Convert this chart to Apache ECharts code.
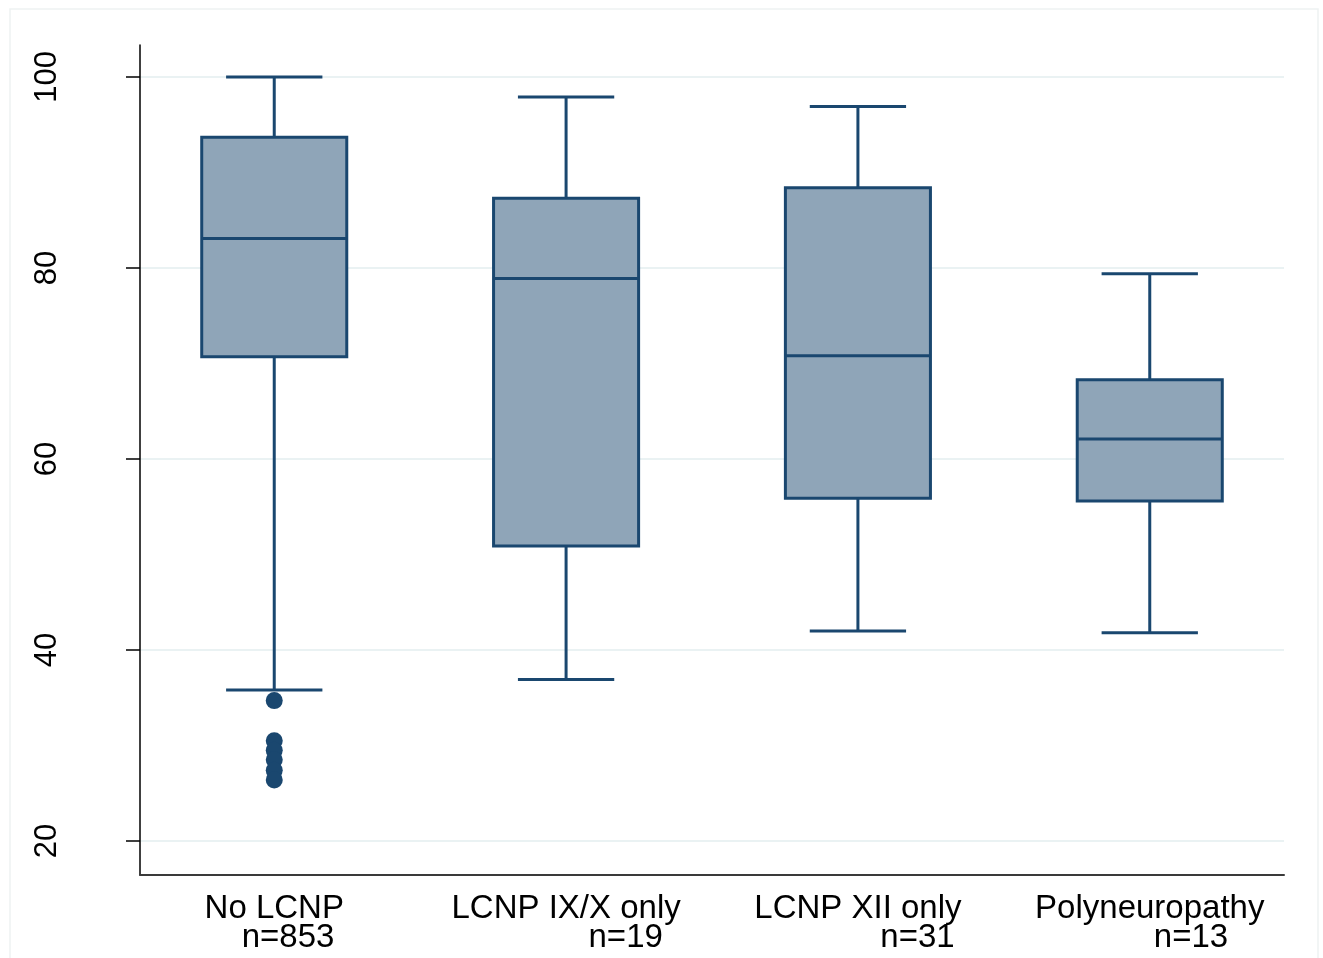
<!DOCTYPE html>
<html>
<head>
<meta charset="utf-8">
<script src="https://cdn.jsdelivr.net/npm/echarts@6/dist/echarts.min.js"></script>
<style>html,body{margin:0;padding:0;background:#fff;}#chart{width:1323px;height:958px;}</style>
</head>
<body>
<div id="chart"></div>
<script>
const categories = ['No LCNP', 'LCNP IX/X only', 'LCNP XII only', 'Polyneuropathy'];
const sampleLabels = ['   n=853', '             n=19', '             n=31', '         n=13'];
const whiskerLow = [35.8, 36.9, 42.0, 41.8];
const q1 = [70.7, 50.9, 55.9, 55.6];
const median = [83.1, 78.9, 70.8, 62.1];
const q3 = [93.7, 87.3, 88.4, 68.3];
const whiskerHigh = [100, 97.9, 96.9, 79.4];
const outlierGroup = [1, 1, 1, 1, 1, 1];
const outlierValues = [34.7, 30.5, 29.5, 28.5, 27.4, 26.4];
const yTicks = [20, 40, 60, 80, 100];

const navy = '#1a476f';
const boxFill = '#8fa5b8';

const boxData = categories.map((c, i) => [i + 1, whiskerLow[i], q1[i], median[i], q3[i], whiskerHigh[i]]);
const outlierData = outlierValues.map((v, i) => [outlierGroup[i], v]);

const chart = echarts.init(document.getElementById('chart'), null, {renderer: 'canvas'});
chart.setOption({
  animation: false,
  backgroundColor: '#ffffff',
  graphic: [{
    type: 'rect', z: -10, silent: true,
    shape: {x: 10, y: 9, width: 1308, height: 960},
    style: {fill: '#ffffff', stroke: '#eef2f2', lineWidth: 1.5}
  }],
  grid: {left: 140, right: 39, top: 45, bottom: 83, containLabel: false},
  xAxis: {
    type: 'value', min: 0.54, max: 4.46,
    axisLine: {show: true, lineStyle: {color: '#3a3a3a', width: 2}},
    axisTick: {show: false},
    splitLine: {show: false},
    axisLabel: {
      customValues: [1, 2, 3, 4],
      margin: 19,
      fontFamily: 'Liberation Sans, Arial, sans-serif',
      fontSize: 33, lineHeight: 29, color: '#000',
      formatter: v => {
        const i = Math.round(v) - 1;
        return categories[i] + '\n' + sampleLabels[i];
      }
    }
  },
  yAxis: {
    type: 'value', min: 16.44, max: 103.35,
    axisLine: {show: true, lineStyle: {color: '#000', width: 1.5}},
    axisTick: {show: true, length: 14, customValues: yTicks, lineStyle: {color: '#000', width: 1.5}},
    splitLine: {show: true, lineStyle: {color: '#eaf2f3', width: 2}},
    axisLabel: {
      customValues: yTicks,
      rotate: 90, margin: 77,
      fontFamily: 'Liberation Sans, Arial, sans-serif',
      fontSize: 31, color: '#000'
    }
  },
  series: [{
    type: 'custom',
    data: boxData,
    encode: {x: 0, y: [1, 2, 3, 4, 5]},
    renderItem: (params, api) => {
      const x = api.value(0);
      const lo = api.coord([x, api.value(1)]);
      const b1 = api.coord([x, api.value(2)]);
      const md = api.coord([x, api.value(3)]);
      const b3 = api.coord([x, api.value(4)]);
      const hi = api.coord([x, api.value(5)]);
      const bw = api.size([0.497, 0])[0];
      const cw = api.size([0.33, 0])[0];
      const ls = {stroke: navy, lineWidth: 3, fill: null};
      return {
        type: 'group',
        children: [
          {type: 'line', shape: {x1: hi[0], y1: hi[1], x2: b3[0], y2: b3[1]}, style: ls},
          {type: 'line', shape: {x1: b1[0], y1: b1[1], x2: lo[0], y2: lo[1]}, style: ls},
          {type: 'line', shape: {x1: hi[0] - cw / 2, y1: hi[1], x2: hi[0] + cw / 2, y2: hi[1]}, style: ls},
          {type: 'line', shape: {x1: lo[0] - cw / 2, y1: lo[1], x2: lo[0] + cw / 2, y2: lo[1]}, style: ls},
          {type: 'rect', shape: {x: b3[0] - bw / 2, y: b3[1], width: bw, height: b1[1] - b3[1]},
           style: {fill: boxFill, stroke: navy, lineWidth: 3}},
          {type: 'line', shape: {x1: md[0] - bw / 2, y1: md[1], x2: md[0] + bw / 2, y2: md[1]}, style: ls}
        ]
      };
    }
  }, {
    type: 'scatter',
    data: outlierData,
    symbol: 'circle', symbolSize: 17,
    itemStyle: {color: navy, opacity: 1}
  }]
});
</script>
</body>
</html>
